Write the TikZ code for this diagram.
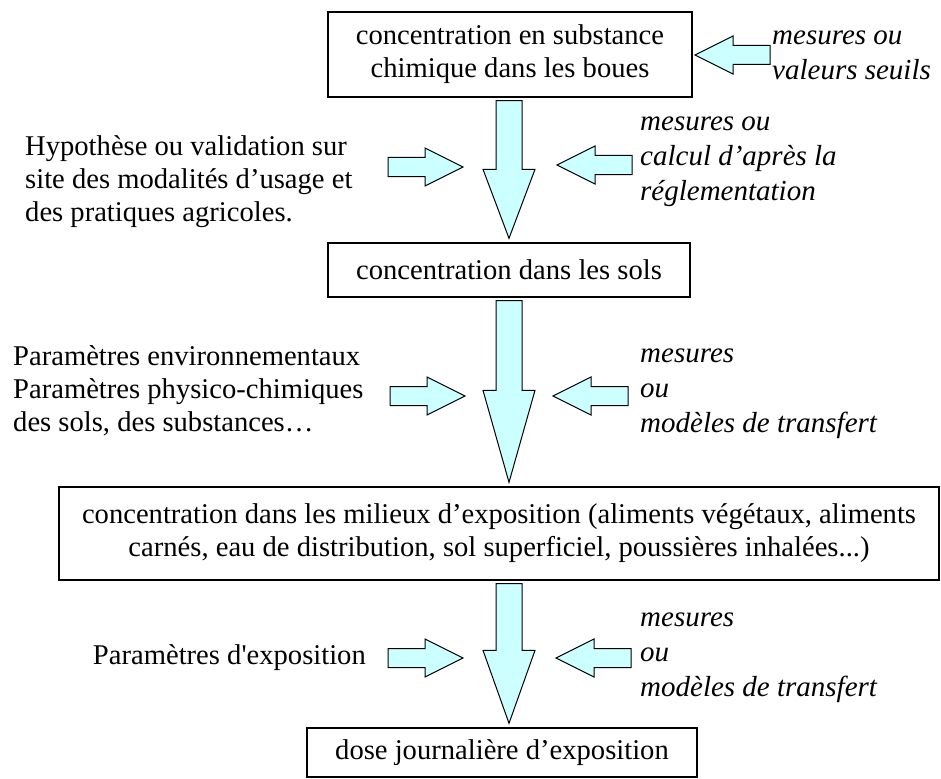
\documentclass[tikz,border=0pt]{standalone}
\usepackage{fontspec}
\setmainfont{Liberation Serif}
\usetikzlibrary{calc}

\definecolor{turquoise}{RGB}{204,255,255}

% flèche bloc verticale entre deux cadres (#3 longueur de la pointe)
\newcommand{\flechebas}[3]{%
  \draw[bloc] let \p1=(#1.south-|axe), \p2=(#2.north-|axe) in
    (\x1-13pt,\y1-3pt) -- (\x1-13pt,\y2+4pt+#3) -- (\x1-26pt,\y2+4pt+#3) -- (\x1,\y2+4pt)
    -- (\x1+26pt,\y2+4pt+#3) -- (\x1+13pt,\y2+4pt+#3) -- (\x1+13pt,\y1-3pt) -- cycle;}

\begin{document}
\begin{tikzpicture}[x=1pt,y=-1pt,font=\fontsize{28.6}{33}\selectfont,
  cadre/.style={draw,line width=1.3pt,align=center,inner sep=0pt},
  bloc/.style={draw,line width=1pt,fill=turquoise,line join=miter},
  texte/.style={align=left,inner sep=0pt},
  entree/.style={texte,font=\fontsize{29}{35}\selectfont\itshape},
  flechelat/.pic={\draw[bloc] (0,0) -- (38,-19) -- (38,-9.5) -- (75,-9.5) -- (75,9.5) -- (38,9.5) -- (38,19) -- cycle;}]
\useasboundingbox (0,0) rectangle (941,778);
\coordinate (axe) at (509,0);

\node[cadre,minimum width=364pt,minimum height=85pt] (boues) at (510,54.5) {concentration en substance\\chimique dans les boues};
\node[cadre,minimum width=362pt,minimum height=54pt] (sols) at (509,270) {concentration dans les sols};
\node[cadre,minimum width=880pt,minimum height=93pt] (milieux) at (499,533.5) {concentration dans les milieux d’exposition (aliments végétaux, aliments\\carnés, eau de distribution, sol superficiel, poussières inhalées...)};
\node[cadre,minimum width=390pt,minimum height=49pt] (dose) at (502,752.5) {dose journalière d’exposition};

\flechebas{boues}{sols}{69pt}
\flechebas{sols}{milieux}{92pt}
\flechebas{milieux}{dose}{73pt}

% entrées
\pic at (695,55) {flechelat};
\node[entree,anchor=west] (seuils) at (772,55) {mesures ou\\valeurs seuils};

\node[texte,anchor=west] (usage) at (25,182) {Hypothèse ou validation sur\\site des modalités d’usage et\\des pratiques agricoles.};
\pic[xscale=-1] at (463,167) {flechelat};
\pic at (557,165) {flechelat};
\node[entree,anchor=west] (reglement) at (640,162) {mesures ou\\calcul d’après la\\réglementation};

\node[texte,anchor=west] (environ) at (13,391) {Paramètres environnementaux\\Paramètres physico-chimiques\\des sols, des substances…};
\pic[xscale=-1] at (465,396) {flechelat};
\pic at (553,396) {flechelat};
\node[entree,anchor=west] (transfert) at (640,394) {mesures\\ou\\modèles de transfert};

\node[texte,anchor=east] (expo) at (366,658) {Paramètres d\textquotesingle exposition};
\pic[xscale=-1] at (463,658) {flechelat};
\pic at (556,658) {flechelat};
\node[entree,anchor=west] (transfert2) at (640,658) {mesures\\ou\\modèles de transfert};
\end{tikzpicture}
\end{document}
